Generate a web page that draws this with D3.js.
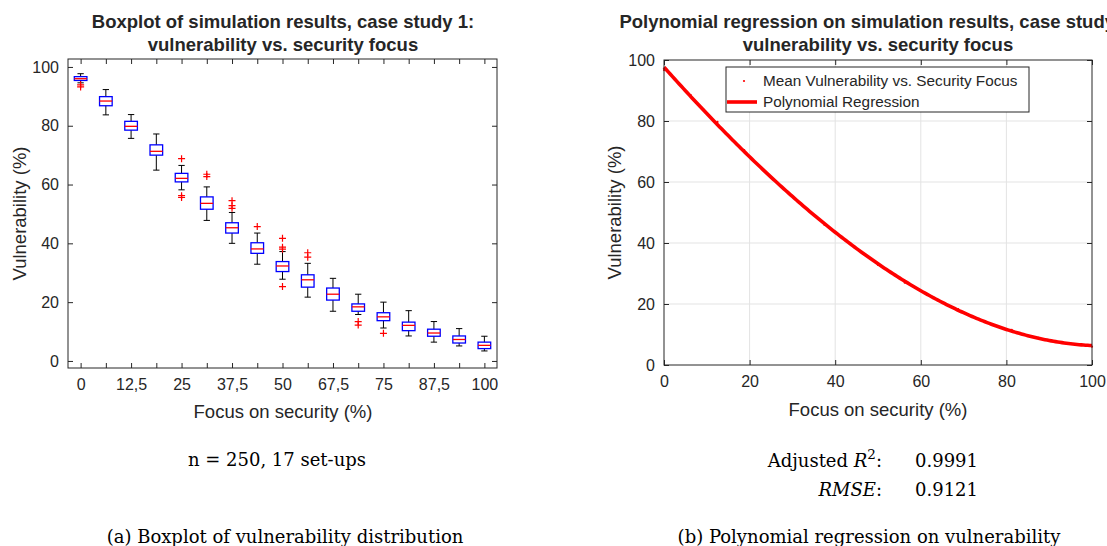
<!DOCTYPE html>
<html>
<head>
<meta charset="utf-8">
<script src="https://cdn.jsdelivr.net/npm/d3@7"></script>
<style>
  html, body { margin: 0; padding: 0; background: #fff; }
  svg { display: block; }
  .ax text { font-family: "Liberation Sans", Arial, sans-serif; fill: #262626; }
</style>
</head>
<body>
<svg id="fig" width="1107" height="546"></svg>
<script>
// ---- Boxplot data: 17 set-ups, focus on security from 0 to 100 % ----
const focusLevels = [0, 6.25, 12.5, 18.75, 25, 31.25, 37.5, 43.75, 50, 56.25, 62.5, 68.75, 75, 81.25, 87.5, 93.75, 100];
const boxTickLabels = ["0", "", "12,5", "", "25", "", "37,5", "", "50", "", "67,5", "", "75", "", "87,5", "", "100"];
const medians   = [96.0, 88.4, 79.8, 71.3, 62.1, 53.6, 45.3, 38.1, 32.3, 27.6, 22.7, 18.4, 15.0, 12.1, 9.5, 7.3, 5.3];
const q1        = [95.4, 86.8, 78.5, 70.0, 60.9, 51.6, 43.5, 36.6, 30.4, 25.1, 20.7, 16.9, 13.7, 10.3, 8.4, 6.1, 4.2];
const q3        = [96.7, 89.9, 81.5, 73.5, 63.8, 55.8, 47.0, 40.2, 33.8, 29.3, 24.8, 19.4, 16.4, 13.2, 10.8, 8.5, 6.4];
const whiskerLo = [94.6, 83.7, 75.7, 64.9, 58.2, 47.8, 40.0, 32.9, 27.8, 21.7, 16.9, 15.8, 11.2, 8.5, 6.4, 5.1, 3.4];
const whiskerHi = [97.7, 92.3, 83.8, 77.2, 66.5, 59.2, 50.5, 43.5, 37.2, 33.2, 28.1, 22.7, 20.0, 17.1, 13.4, 11.0, 8.4];
const outliers  = [[93.9, 93.2], [], [], [], [68.8, 56.2, 55.6], [63.5, 62.7], [54.5, 52.8, 51.9], [45.7],
                   [41.7, 38.7, 38.0, 25.3], [36.8, 35.3], [], [13.4, 12.2], [9.4], [], [], [], []];

// ---- Mean vulnerability per set-up (input to the regression) ----
const meanVulnerability = [96.7, 88.5, 79.7, 70.5, 61.5, 53.5, 45.9, 39.3, 32.8, 27.0, 22.5, 18.3, 14.4, 11.5, 8.9, 7.2, 6.0];
const polyDegree = 3;
const regressionStats = [["Adjusted ", "R", "2", "0.9991"], ["", "RMSE", "", "0.9121"]];

const svg = d3.select("#fig");
const FONT = '"Liberation Sans", Arial, sans-serif';
const SERIF = '"DejaVu Serif", "Liberation Serif", serif';
const AXC = "#262626";
const TICK_FS = 16, LABEL_FS = 18.5, TITLE_FS = 18.5;

// ================= Left panel: boxplot =================
const L = { x0: 68, x1: 497, y0: 59, y1: 368 };
const xb = d3.scaleLinear().domain([0.5, 17.5]).range([L.x0, L.x1]);
const yb = d3.scaleLinear().domain([-2.4, 102.7]).range([L.y1, L.y0]);
const left = svg.append("g").attr("class", "ax");

const positions = d3.range(1, 18);
// axes with inward ticks on all four sides
left.append("g").attr("transform", `translate(0,${L.y1})`)
  .call(d3.axisBottom(xb).tickValues(positions).tickSize(-5).tickPadding(11)
        .tickFormat((d, i) => boxTickLabels[i]))
  .call(g => { g.select(".domain").remove(); g.selectAll("line").attr("stroke", AXC);
               g.selectAll("text").attr("font-size", TICK_FS); });
left.append("g").attr("transform", `translate(0,${L.y0})`)
  .call(d3.axisTop(xb).tickValues(positions).tickSize(-5).tickFormat(""))
  .call(g => { g.select(".domain").remove(); g.selectAll("line").attr("stroke", AXC); });
left.append("g").attr("transform", `translate(${L.x0},0)`)
  .call(d3.axisLeft(yb).tickValues([0, 20, 40, 60, 80, 100]).tickSize(-5).tickPadding(9))
  .call(g => { g.select(".domain").remove(); g.selectAll("line").attr("stroke", AXC);
               g.selectAll("text").attr("font-size", TICK_FS); });
left.append("g").attr("transform", `translate(${L.x1},0)`)
  .call(d3.axisRight(yb).tickValues([0, 20, 40, 60, 80, 100]).tickSize(-5).tickFormat(""))
  .call(g => { g.select(".domain").remove(); g.selectAll("line").attr("stroke", AXC); });
left.append("rect").attr("x", L.x0).attr("y", L.y0).attr("width", L.x1 - L.x0).attr("height", L.y1 - L.y0)
  .attr("fill", "none").attr("stroke", AXC).attr("stroke-width", 1);

const bw = (xb(2) - xb(1)) * 0.5;
const boxes = left.append("g").selectAll("g").data(positions).join("g");
// whiskers
boxes.append("line").attr("x1", p => xb(p)).attr("x2", p => xb(p))
  .attr("y1", (p, i) => yb(q3[i])).attr("y2", (p, i) => yb(whiskerHi[i])).attr("stroke", "#000");
boxes.append("line").attr("x1", p => xb(p)).attr("x2", p => xb(p))
  .attr("y1", (p, i) => yb(q1[i])).attr("y2", (p, i) => yb(whiskerLo[i])).attr("stroke", "#000");
// caps
boxes.append("line").attr("x1", p => xb(p) - bw / 4).attr("x2", p => xb(p) + bw / 4)
  .attr("y1", (p, i) => yb(whiskerHi[i])).attr("y2", (p, i) => yb(whiskerHi[i])).attr("stroke", "#000");
boxes.append("line").attr("x1", p => xb(p) - bw / 4).attr("x2", p => xb(p) + bw / 4)
  .attr("y1", (p, i) => yb(whiskerLo[i])).attr("y2", (p, i) => yb(whiskerLo[i])).attr("stroke", "#000");
// box
boxes.append("rect").attr("x", p => xb(p) - bw / 2).attr("width", bw)
  .attr("y", (p, i) => yb(q3[i])).attr("height", (p, i) => yb(q1[i]) - yb(q3[i]))
  .attr("fill", "none").attr("stroke", "#0000ff").attr("stroke-width", 1.3);
// median
boxes.append("line").attr("x1", p => xb(p) - bw / 2).attr("x2", p => xb(p) + bw / 2)
  .attr("y1", (p, i) => yb(medians[i])).attr("y2", (p, i) => yb(medians[i]))
  .attr("stroke", "#ff0000").attr("stroke-width", 1.3);
// outliers as red plus markers
boxes.each(function (p, i) {
  d3.select(this).selectAll("path.out").data(outliers[i]).join("path").attr("class", "out")
    .attr("d", v => `M${xb(p) - 3.5},${yb(v)}h7M${xb(p)},${yb(v) - 3.5}v7`)
    .attr("stroke", "#ff0000").attr("stroke-width", 1.2).attr("fill", "none");
});

function title(g, cx, lines) {
  lines.forEach((s, i) => g.append("text").attr("x", cx).attr("y", 28 + i * 23).attr("text-anchor", "middle")
    .attr("font-family", FONT).attr("font-weight", "bold").attr("font-size", TITLE_FS).attr("fill", "#000").text(s));
}
title(left, 283, ["Boxplot of simulation results, case study 1:", "vulnerability vs. security focus"]);
left.append("text").attr("x", 283).attr("y", 418).attr("text-anchor", "middle")
  .attr("font-size", LABEL_FS).text("Focus on security (%)");
left.append("text").attr("transform", `translate(26,${(L.y0 + L.y1) / 2}) rotate(-90)`)
  .attr("text-anchor", "middle").attr("font-size", LABEL_FS).text("Vulnerability (%)");

// ================= Right panel: polynomial regression =================
const R = { x0: 664, x1: 1092, y0: 60, y1: 365 };
const xr = d3.scaleLinear().domain([0, 100]).range([R.x0, R.x1]);
const yr = d3.scaleLinear().domain([0, 100]).range([R.y1, R.y0]);
const right = svg.append("g").attr("class", "ax");
const rt = [0, 20, 40, 60, 80, 100];

// grid
right.append("g").selectAll("line.gx").data(rt.slice(1, -1)).join("line")
  .attr("x1", d => xr(d)).attr("x2", d => xr(d)).attr("y1", R.y0).attr("y2", R.y1)
  .attr("stroke", "#e3e3e3");
right.append("g").selectAll("line.gy").data(rt.slice(1, -1)).join("line")
  .attr("y1", d => yr(d)).attr("y2", d => yr(d)).attr("x1", R.x0).attr("x2", R.x1)
  .attr("stroke", "#e3e3e3");

right.append("g").attr("transform", `translate(0,${R.y1})`)
  .call(d3.axisBottom(xr).tickValues(rt).tickSize(-5).tickPadding(11))
  .call(g => { g.select(".domain").remove(); g.selectAll("line").attr("stroke", AXC);
               g.selectAll("text").attr("font-size", TICK_FS); });
right.append("g").attr("transform", `translate(0,${R.y0})`)
  .call(d3.axisTop(xr).tickValues(rt).tickSize(-5).tickFormat(""))
  .call(g => { g.select(".domain").remove(); g.selectAll("line").attr("stroke", AXC); });
right.append("g").attr("transform", `translate(${R.x0},0)`)
  .call(d3.axisLeft(yr).tickValues(rt).tickSize(-5).tickPadding(9))
  .call(g => { g.select(".domain").remove(); g.selectAll("line").attr("stroke", AXC);
               g.selectAll("text").attr("font-size", TICK_FS); });
right.append("g").attr("transform", `translate(${R.x1},0)`)
  .call(d3.axisRight(yr).tickValues(rt).tickSize(-5).tickFormat(""))
  .call(g => { g.select(".domain").remove(); g.selectAll("line").attr("stroke", AXC); });

// least-squares polynomial fit of the means (x rescaled to [0,1])
function polyfit(xs, ys, deg) {
  const n = deg + 1;
  const A = Array.from({ length: n }, () => new Array(n + 1).fill(0));
  xs.forEach((x, k) => {
    for (let r = 0; r < n; r++) {
      for (let c = 0; c < n; c++) A[r][c] += Math.pow(x, r + c);
      A[r][n] += ys[k] * Math.pow(x, r);
    }
  });
  for (let c = 0; c < n; c++) {
    let piv = c;
    for (let r = c + 1; r < n; r++) if (Math.abs(A[r][c]) > Math.abs(A[piv][c])) piv = r;
    [A[c], A[piv]] = [A[piv], A[c]];
    for (let r = 0; r < n; r++) {
      if (r === c) continue;
      const f = A[r][c] / A[c][c];
      for (let k = c; k <= n; k++) A[r][k] -= f * A[c][k];
    }
  }
  return A.map((row, r) => row[n] / row[r]);
}
const coef = polyfit(focusLevels.map(f => f / 100), meanVulnerability, polyDegree);
const polyAt = f => coef.reduce((s, c, k) => s + c * Math.pow(f / 100, k), 0);
const curveX = d3.range(0, 100.001, 0.5);

right.append("path").datum(curveX)
  .attr("d", d3.line().x(d => xr(d)).y(d => yr(polyAt(d))))
  .attr("fill", "none").attr("stroke", "#ff0000").attr("stroke-width", 3.6);
right.append("g").selectAll("circle").data(focusLevels).join("circle")
  .attr("cx", d => xr(d)).attr("cy", (d, i) => yr(meanVulnerability[i])).attr("r", 1.1)
  .attr("fill", "#ff0000");

right.append("rect").attr("x", R.x0).attr("y", R.y0).attr("width", R.x1 - R.x0).attr("height", R.y1 - R.y0)
  .attr("fill", "none").attr("stroke", AXC).attr("stroke-width", 1);

// legend
const lg = right.append("g");
lg.append("rect").attr("x", 726).attr("y", 67).attr("width", 303).attr("height", 45)
  .attr("fill", "#fff").attr("stroke", AXC).attr("stroke-width", 1);
lg.append("circle").attr("cx", 744).attr("cy", 81).attr("r", 1.1).attr("fill", "#ff0000");
lg.append("line").attr("x1", 727).attr("x2", 757).attr("y1", 102).attr("y2", 102)
  .attr("stroke", "#ff0000").attr("stroke-width", 3.6);
lg.append("text").attr("x", 763).attr("y", 86).attr("font-size", 15.3).text("Mean Vulnerability vs. Security Focus");
lg.append("text").attr("x", 763).attr("y", 107).attr("font-size", 15.3).text("Polynomial Regression");

title(right, 878, ["Polynomial regression on simulation results, case study 1:", "vulnerability vs. security focus"]);
right.append("text").attr("x", 878).attr("y", 416).attr("text-anchor", "middle")
  .attr("font-size", LABEL_FS).text("Focus on security (%)");
right.append("text").attr("transform", `translate(621,${(R.y0 + R.y1) / 2}) rotate(-90)`)
  .attr("text-anchor", "middle").attr("font-size", LABEL_FS).text("Vulnerability (%)");

// ================= Captions =================
const cap = svg.append("g").attr("font-family", SERIF).attr("fill", "#000").attr("font-size", 18);
cap.append("text").attr("x", 277).attr("y", 466).attr("text-anchor", "middle").text("n = 250, 17 set-ups");
cap.append("text").attr("x", 285).attr("y", 543).attr("text-anchor", "middle").text("(a) Boxplot of vulnerability distribution");
cap.append("text").attr("x", 869).attr("y", 543).attr("text-anchor", "middle").text("(b) Polynomial regression on vulnerability");

regressionStats.forEach(([pre, sym, sup, val], i) => {
  const y = 467 + i * 29;
  const t = cap.append("text").attr("x", 882).attr("y", y).attr("text-anchor", "end");
  t.append("tspan").text(pre);
  t.append("tspan").attr("font-style", "italic").text(sym);
  if (sup) t.append("tspan").attr("font-size", 13.5).attr("dy", -8).text(sup);
  t.append("tspan").attr("dy", sup ? 8 : 0).text(":");
  cap.append("text").attr("x", 915).attr("y", y).text(val);
});
</script>
</body>
</html>
